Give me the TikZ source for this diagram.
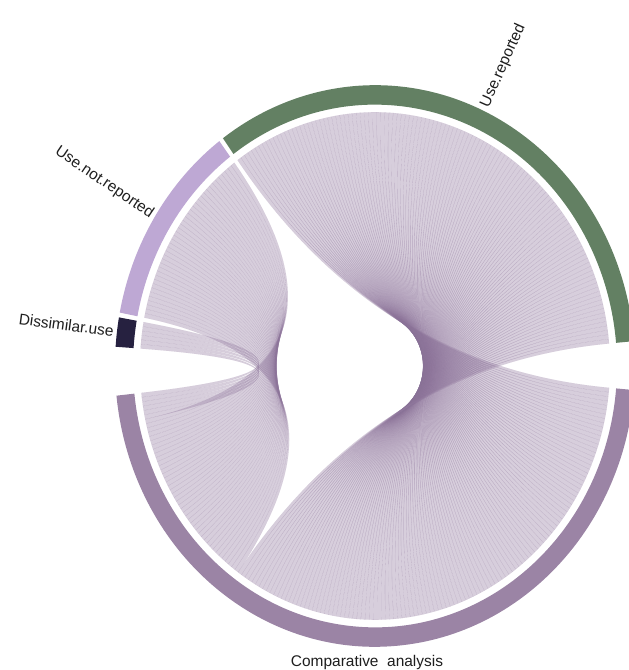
\documentclass[tikz,border=0pt]{standalone}
\usepackage{fontspec}
\setmainfont{Liberation Sans}
\usepackage{tikz}

\definecolor{repgreen}{RGB}{99,128,99}
\definecolor{notpurple}{RGB}{190,168,212}
\definecolor{disnavy}{RGB}{38,33,64}
\definecolor{comppurple}{RGB}{155,132,165}
\definecolor{linkfill}{RGB}{145,120,158}
\definecolor{linkline}{RGB}{135,112,150}
\definecolor{labelgray}{RGB}{30,30,30}

\begin{document}
\begin{tikzpicture}[x=0.025cm, y=0.025cm,
  lbl/.style={font=\fontsize{11}{13}\selectfont, text=labelgray, inner sep=1.5pt},
  chordlink/.style={fill=linkfill, fill opacity=0.36, draw=linkline, draw opacity=0.16, line width=0.1pt}]
\clip (0,0) rectangle (629,670);
\begin{scope}[shift={(375,304)}, yscale=1.08]
% links: start on source sector / start on comparative / count
\def\linkw{1.006}
\foreach \aS/\bS/\cnt in {125.8/355.08/120, 169.03/234.36/42, 176.07/192.11/6}{
  \foreach \k in {1,...,\cnt}{
    \pgfmathsetmacro{\ao}{\aS-(\k-1)*\linkw}
    \pgfmathsetmacro{\at}{\aS-\k*\linkw}
    \pgfmathsetmacro{\bo}{\bS-(\k-1)*\linkw}
    \pgfmathsetmacro{\bt}{\bS-\k*\linkw}
    \path[chordlink] (\ao:235) -- (\at:235) .. controls (\at:78.3) and (\bo:78.3) .. (\bo:235)
      -- (\bt:235) .. controls (\bt:78.3) and (\ao:78.3) .. (\ao:235) -- cycle;
  }
}
% outer ring
\foreach \from/\to/\col in {125.8/5.08/repgreen, -4.92/-173.93/comppurple, 176.07/170.03/disnavy, 169.03/126.78/notpurple}{
  \fill[\col] (\from:242) arc[start angle=\from, end angle=\to, radius=242]
    -- (\to:260) arc[start angle=\to, end angle=\from, radius=260] -- cycle;
}
\node[lbl, anchor=west, rotate=66] (lrep) at (65.4:262) {Use.reported};
\node[lbl, anchor=east, rotate=-34.1] (lnot) at (147.9:261) {Use.not.reported};
\node[lbl, anchor=east, rotate=-7.6] (ldis) at (173:261) {Dissimilar.use};
\end{scope}
\node[lbl] (lcomp) at (367,7) {Comparative\ \ analysis};
\end{tikzpicture}
\end{document}
